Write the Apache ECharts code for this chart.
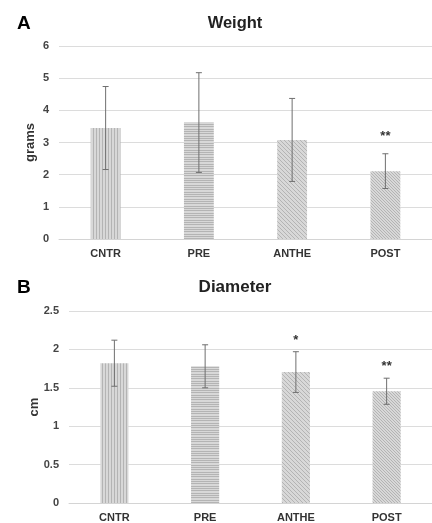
<!DOCTYPE html>
<html>
<head>
<meta charset="utf-8">
<script src="https://cdn.jsdelivr.net/npm/echarts@6/dist/echarts.min.js"></script>
<style>
    html, body { margin: 0; padding: 0; background: #fff; }
    #chart { width: 432px; height: 523px; }
</style>
</head>
<body>
<div id="chart"></div>
<script>
(function () {
    "use strict";
    var categories = ['CNTR', 'PRE', 'ANTHE', 'POST'];

    var weightMean = [3.45, 3.62, 3.08, 2.11];
    var weightSd = [1.29, 1.55, 1.29, 0.54];
    var weightSig = ['', '', '', '**'];

    var diameterMean = [1.82, 1.78, 1.705, 1.455];
    var diameterSd = [0.30, 0.28, 0.265, 0.17];
    var diameterSig = ['', '', '*', '**'];

    var weightTicks = { min: 0, max: 6, interval: 1 };
    var diameterTicks = { min: 0, max: 2.5, interval: 0.5 };

    var fontFamily = '"Liberation Sans", Arial, sans-serif';

    // little tiles used as bar fills
    function tile(w, h, draw) {
        var c = document.createElement('canvas');
        c.width = w;
        c.height = h;
        var ctx = c.getContext('2d');
        ctx.fillStyle = '#d8d8d8';
        ctx.fillRect(0, 0, w, h);
        ctx.fillStyle = '#b4b4b4';
        ctx.strokeStyle = '#b4b4b4';
        draw(ctx);
        return { image: c, repeat: 'repeat' };
    }
    var patterns = [
        tile(3, 4, function (ctx) { ctx.fillRect(0, 0, 1, 4); }),
        tile(4, 7, function (ctx) { ctx.fillRect(0, 0, 4, 1); ctx.fillRect(0, 3, 4, 1); ctx.fillRect(0, 5, 4, 1); }),
        tile(4, 4, function (ctx) {
            ctx.lineWidth = 1;
            ctx.beginPath();
            ctx.moveTo(-1, -1); ctx.lineTo(5, 5);
            ctx.moveTo(-1, 3); ctx.lineTo(1, 5);
            ctx.moveTo(3, -1); ctx.lineTo(5, 1);
            ctx.stroke();
        }),
        tile(3, 3, function (ctx) {
            ctx.lineWidth = 1;
            ctx.beginPath();
            ctx.moveTo(-1, -1); ctx.lineTo(4, 4);
            ctx.moveTo(-1, 2); ctx.lineTo(1, 4);
            ctx.moveTo(2, -1); ctx.lineTo(4, 1);
            ctx.stroke();
        })
    ];

    function errorData(mean, sd, sig) {
        return mean.map(function (m, i) { return [i, m - sd[i], m + sd[i], sig[i]]; });
    }

    function makeErrorRenderer(sigGap) {
        return function (params, api) {
            var lo = api.coord([api.value(0), api.value(1)]);
            var hi = api.coord([api.value(0), api.value(2)]);
            var cap = 3;
            var style = { stroke: '#6f6f6f', lineWidth: 1 };
            var children = [
                { type: 'line', shape: { x1: hi[0], y1: hi[1], x2: lo[0], y2: lo[1] }, style: style },
                { type: 'line', shape: { x1: hi[0] - cap, y1: hi[1], x2: hi[0] + cap, y2: hi[1] }, style: style },
                { type: 'line', shape: { x1: lo[0] - cap, y1: lo[1], x2: lo[0] + cap, y2: lo[1] }, style: style }
            ];
            var sig = api.value(3);
            if (sig) {
                children.push({
                    type: 'text',
                    style: {
                        text: sig, x: hi[0], y: hi[1] - sigGap,
                        align: 'center', verticalAlign: 'bottom',
                        fill: '#333', font: 'bold 13px ' + fontFamily
                    }
                });
            }
            return { type: 'group', children: children };
        };
    }

    function barData(mean) {
        return mean.map(function (v, i) {
            return { value: v, itemStyle: { color: patterns[i] } };
        });
    }

    function yAxis(idx, name, ticks, gap) {
        return {
            type: 'value', gridIndex: idx,
            min: ticks.min, max: ticks.max, interval: ticks.interval,
            name: name, nameLocation: 'middle', nameRotate: 90, nameGap: gap,
            nameMoveOverlap: false,
            nameTextStyle: { fontFamily: fontFamily, fontSize: 13, fontWeight: 'bold', color: '#333' },
            axisLine: { show: false }, axisTick: { show: false },
            axisLabel: { margin: 10, fontFamily: fontFamily, fontSize: 11, fontWeight: 'bold', color: '#444' },
            splitLine: { lineStyle: { color: '#dcdcdc', width: 1 } }
        };
    }

    function xAxis(idx) {
        return {
            type: 'category', gridIndex: idx, data: categories,
            axisLine: { lineStyle: { color: '#d4d4d4' } }, axisTick: { show: false },
            axisLabel: { margin: 9, fontFamily: fontFamily, fontSize: 11, fontWeight: 'bold', color: '#333' }
        };
    }

    var chart = echarts.init(document.getElementById('chart'));
    var option = {
        animation: false,
        backgroundColor: '#fff',
        title: [
            { text: 'A', left: 12, top: 9, textStyle: { fontFamily: fontFamily, fontSize: 19, fontWeight: 'bold', color: '#000' } },
            { text: 'Weight', left: 230, top: 10, textAlign: 'center', textStyle: { fontFamily: fontFamily, fontSize: 16.5, fontWeight: 'bold', color: '#222' } },
            { text: 'B', left: 12, top: 273, textStyle: { fontFamily: fontFamily, fontSize: 19, fontWeight: 'bold', color: '#000' } },
            { text: 'Diameter', left: 230, top: 274, textAlign: 'center', textStyle: { fontFamily: fontFamily, fontSize: 17, fontWeight: 'bold', color: '#222' } }
        ],
        grid: [
            { left: 59, right: -6, top: 46, bottom: 284 },
            { left: 69, right: -6, top: 311, bottom: 18 }
        ],
        xAxis: [xAxis(0), xAxis(1)],
        yAxis: [
            yAxis(0, 'grams', weightTicks, 22),
            yAxis(1, 'cm', diameterTicks, 28)
        ],
        series: [
            { type: 'bar', xAxisIndex: 0, yAxisIndex: 0, barWidth: '32%', data: barData(weightMean) },
            { type: 'custom', xAxisIndex: 0, yAxisIndex: 0, renderItem: makeErrorRenderer(11), data: errorData(weightMean, weightSd, weightSig), z: 5 },
            { type: 'bar', xAxisIndex: 1, yAxisIndex: 1, barWidth: '31%', data: barData(diameterMean) },
            { type: 'custom', xAxisIndex: 1, yAxisIndex: 1, renderItem: makeErrorRenderer(5), data: errorData(diameterMean, diameterSd, diameterSig), z: 5 }
        ]
    };
    chart.setOption(option);
})();
</script>
</body>
</html>
